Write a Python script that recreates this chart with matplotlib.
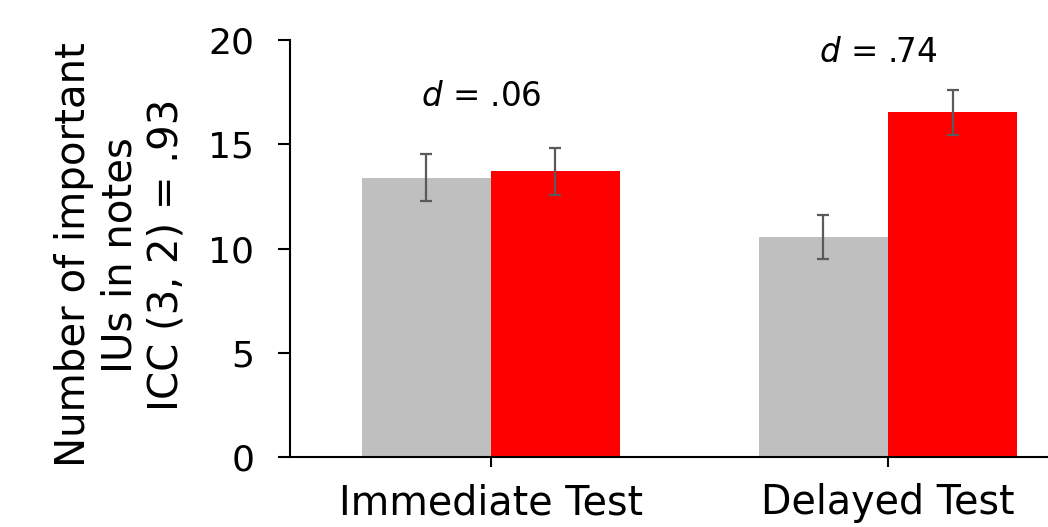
import matplotlib
matplotlib.use("Agg")
import matplotlib.pyplot as plt
import numpy as np

categories = ["Immediate Test", "Delayed Test"]
gray_values = [13.4, 10.55]
red_values = [13.72, 16.54]
gray_err = [1.13, 1.07]
red_err = [1.13, 1.09]
d_labels = [".06", ".74"]
d_label_y = [17.3, 19.4]
yticks = [0, 5, 10, 15, 20]
ylabel = "Number of important\nIUs in notes\nICC (3, 2) = .93"

plt.rcParams['font.family'] = ['DejaVu Sans']
plt.rcParams['mathtext.fontset'] = 'dejavusans'

fig = plt.figure(figsize=(10.48, 5.27), dpi=100)
ax = fig.add_axes([290/1048, 1-457/527, 1-290/1048, (457-40.3)/527])

x = np.arange(len(categories))
w = 0.325
err_kw = dict(ecolor="#5A5A5A", elinewidth=1.6, capsize=4.5, capthick=1.6)
ax.bar(x - w/2, gray_values, w, color="#BFBFBF", yerr=gray_err, error_kw=err_kw)
ax.bar(x + w/2, red_values, w, color="#FF0000", yerr=red_err, error_kw=err_kw)

for xi, lab, yy in zip(x, d_labels, d_label_y):
    ax.text(xi - 0.025, yy, r"$d$ = " + lab, ha="center", va="center",
            fontsize=23.5)

ax.set_xlim(-0.506, 1.403)
ax.set_ylim(0, 20)
ax.set_yticks(yticks)
ax.set_xticks(x)
ax.set_xticklabels(categories, fontsize=28.5)
ax.tick_params(axis="y", direction="out", length=8.6, width=1.5, labelsize=26, pad=17)
ax.tick_params(axis="x", direction="out", length=7, width=1.5, pad=12)
for s in ["top", "right"]:
    ax.spines[s].set_visible(False)
for s in ["left", "bottom"]:
    ax.spines[s].set_linewidth(1.5)

fig.text(120/1048, 1-255/527, ylabel, rotation=90, ha="center", va="center",
         multialignment="center", fontsize=29, linespacing=1.2)

fig.savefig("out.png", dpi=100)
